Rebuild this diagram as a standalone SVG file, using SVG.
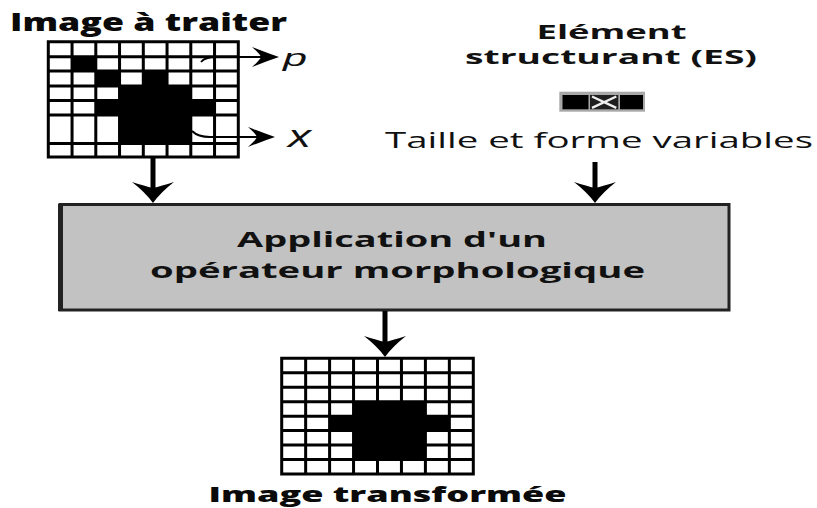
<svg xmlns="http://www.w3.org/2000/svg" width="817" height="508" viewBox="0 0 817 508">
  <style>
    .title { font-family: "Open Sans", "DejaVu Sans", sans-serif; font-weight: 800; fill: #0a0a0a; }
    .label { font-family: "Open Sans", "DejaVu Sans", sans-serif; font-weight: 700; fill: #111; }
    .plain { font-family: "Open Sans", "DejaVu Sans", sans-serif; font-weight: 400; fill: #111; }
    .sym { font-family: "Liberation Sans", "DejaVu Sans", sans-serif; font-style: italic; fill: #111; }
    .grid { fill: none; stroke: #000; stroke-width: 3; stroke-linecap: square; }
    .cell { fill: #000; }
    .shaft { fill: none; stroke: #000; stroke-width: 5; }
    .thin { fill: none; stroke: #000; stroke-width: 2; }
  </style>
  <defs>
    <!-- swept-back arrowhead for the thick flow arrows -->
    <marker id="bigHead" markerUnits="userSpaceOnUse" markerWidth="50" markerHeight="50" refX="-13" refY="0" orient="auto" overflow="visible">
      <path d="M0,0 Q-11,-8 -21,-21 Q-17,-8 -15,0 Q-17,8 -21,21 Q-11,8 0,0 Z" fill="#000"/>
    </marker>
    <!-- smaller head for the pointer arrows -->
    <marker id="smallHead" markerUnits="userSpaceOnUse" markerWidth="40" markerHeight="30" refX="-14" refY="0" orient="auto" overflow="visible">
      <path d="M0,0 Q-12,-4 -27,-10 Q-19,-3 -18,0 Q-19,3 -27,10 Q-12,4 0,0 Z" fill="#000"/>
    </marker>
  </defs>

  <rect width="817" height="508" fill="#fff"/>

  <!-- input image -->
  <g id="image-input">
    <text class="title" x="10" y="30.7" font-size="24" textLength="277" lengthAdjust="spacingAndGlyphs">Image à traiter</text>
    <rect x="48.3" y="41.7" width="190" height="115.3" fill="#fff"/>
    <rect class="cell" x="72.05" y="56.7" width="23.75" height="14.3"/>
    <rect class="cell" x="95.8" y="71" width="23.75" height="15"/>
    <rect class="cell" x="143.3" y="71" width="23.75" height="15"/>
    <rect class="cell" x="119.55" y="86" width="71.25" height="57.5"/>
    <rect class="cell" x="95.8" y="100.5" width="118.75" height="14.5"/>
    <path class="grid" d="M48.3,41.7V157 M72.05,41.7V157 M95.8,41.7V157 M119.55,41.7V157 M143.3,41.7V157 M167.05,41.7V157 M190.8,41.7V157 M214.55,41.7V157 M238.3,41.7V157
      M48.3,41.7H238.3 M48.3,56.7H238.3 M48.3,71H238.3 M48.3,86H238.3 M48.3,100.5H238.3 M48.3,115H238.3 M48.3,143.5H238.3 M48.3,157H238.3"/>
    <text class="sym" x="283" y="66" font-size="24" textLength="24" lengthAdjust="spacingAndGlyphs">p</text>
    <text class="sym" x="288" y="147" font-size="32" textLength="23" lengthAdjust="spacingAndGlyphs">x</text>
  </g>

  <!-- structuring element -->
  <g id="structuring-element">
    <text class="label" x="611.5" y="39" font-size="20" text-anchor="middle" textLength="150" lengthAdjust="spacingAndGlyphs">Elément</text>
    <text class="label" x="611" y="64" font-size="20" text-anchor="middle" textLength="292" lengthAdjust="spacingAndGlyphs">structurant (ES)</text>
    <rect x="559.3" y="91.7" width="85.7" height="20" fill="#a8a8a8"/>
    <rect x="562.5" y="95" width="26" height="14.3" fill="#000"/>
    <rect x="590" y="95" width="28.3" height="14.3" fill="#1e1e1e"/>
    <path d="M592,96.5 L616.3,107.8 M592,107.8 L616.3,96.5" stroke="#eee" stroke-width="2.4" fill="none"/>
    <rect x="620" y="95" width="23" height="14.3" fill="#000"/>
    <text class="plain" x="599" y="148.3" font-size="21" text-anchor="middle" textLength="428" lengthAdjust="spacingAndGlyphs">Taille et forme variables</text>
  </g>

  <!-- operator box -->
  <g id="operator">
    <rect x="60" y="204.5" width="669" height="105.5" fill="#c2c2c2" stroke="#222" stroke-width="3"/>
    <path d="M60.5,204 V311" stroke="#222" stroke-width="5"/>
    <text class="label" x="392" y="247" font-size="21" text-anchor="middle" textLength="310" lengthAdjust="spacingAndGlyphs">Application d'un</text>
    <text class="label" x="397.5" y="277.5" font-size="21" text-anchor="middle" textLength="495" lengthAdjust="spacingAndGlyphs">opérateur morphologique</text>
  </g>

  <!-- output image -->
  <g id="image-output">
    <rect x="281.7" y="358.3" width="191.6" height="115.7" fill="#fff"/>
    <rect class="cell" x="353.55" y="401.68" width="71.85" height="57.84"/>
    <rect class="cell" x="329.6" y="416.14" width="119.75" height="14.46"/>
    <path class="grid" d="M281.7,358.3V474 M305.65,358.3V474 M329.6,358.3V474 M353.55,358.3V474 M377.5,358.3V474 M401.45,358.3V474 M425.4,358.3V474 M449.35,358.3V474 M473.3,358.3V474
      M281.7,358.3H473.3 M281.7,372.76H473.3 M281.7,387.22H473.3 M281.7,401.68H473.3 M281.7,416.14H473.3 M281.7,430.6H473.3 M281.7,445.06H473.3 M281.7,459.52H473.3 M281.7,474H473.3"/>
    <text class="title" x="387.5" y="502" font-size="21" text-anchor="middle" textLength="358" lengthAdjust="spacingAndGlyphs">Image transformée</text>
  </g>

  <!-- connectors -->
  <g id="connectors">
    <path class="shaft" d="M153,158 V190" marker-end="url(#bigHead)"/>
    <path class="shaft" d="M595,162 V190" marker-end="url(#bigHead)"/>
    <path class="shaft" d="M385,311 V344" marker-end="url(#bigHead)"/>
    <path class="thin" d="M201,62 Q205,57 216,57 H265" marker-end="url(#smallHead)"/>
    <path class="thin" d="M192,131 Q198,137 210,137 H261" marker-end="url(#smallHead)"/>
  </g>
</svg>
